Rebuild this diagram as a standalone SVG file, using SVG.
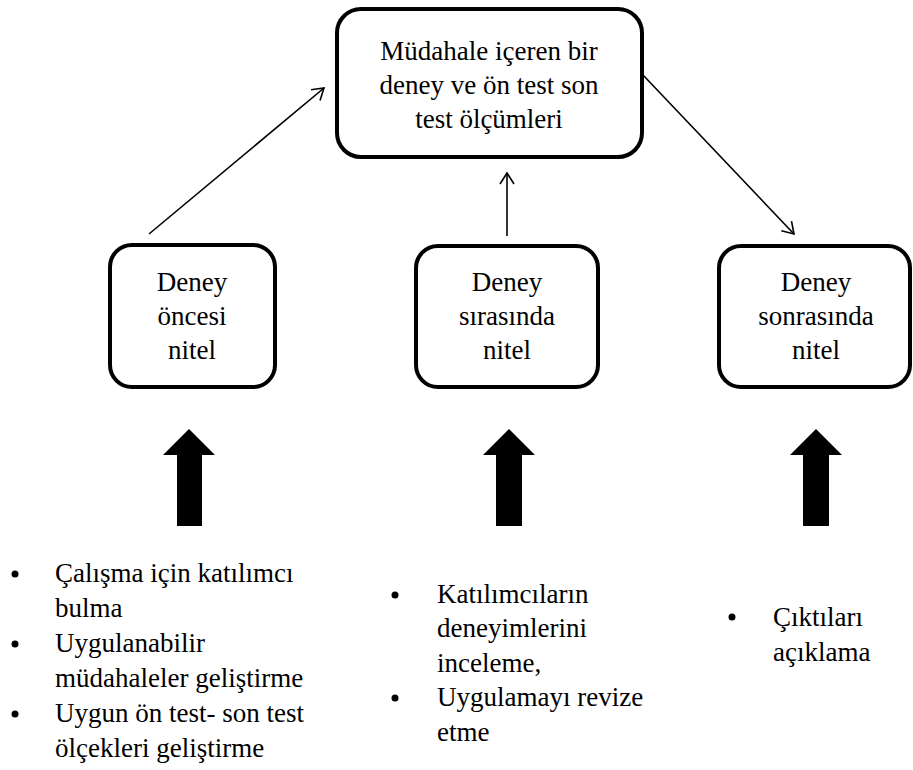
<svg xmlns="http://www.w3.org/2000/svg" width="913" height="770" viewBox="0 0 913 770">
<style>
.box{fill:#fff;stroke:#000;stroke-width:4}
.t{font-family:"Liberation Serif","Times New Roman",serif;font-size:27px;fill:#000}
.c{text-anchor:middle}
.ln{stroke:#000;stroke-width:1.6;fill:none}
.big{fill:#000}
</style>
<defs>
<marker id="oa" markerWidth="16" markerHeight="16" refX="13" refY="8" orient="auto" markerUnits="userSpaceOnUse">
<polyline points="2,1 13,8 2,15" fill="none" stroke="#000" stroke-width="1.6"/>
</marker>
</defs>
<g id="connectors">
<line class="ln" x1="149" y1="234" x2="324" y2="88" marker-end="url(#oa)"/>
<line class="ln" x1="507" y1="236" x2="507" y2="173" marker-end="url(#oa)"/>
<line class="ln" x1="643" y1="75" x2="794" y2="234" marker-end="url(#oa)"/>
<polygon class="big" points="189,429 215,455 202,455 202,526 177,526 177,455 163,455"/>
<polygon class="big" points="509,429 535,455 522,455 522,526 496,526 496,455 483,455"/>
<polygon class="big" points="816,429 842,455 829,455 829,526 803,526 803,455 790,455"/>
</g>
<g id="top">
<rect class="box" x="337" y="9" width="305" height="148" rx="24"/>
<text class="t c" x="489" y="60">Müdahale içeren bir</text>
<text class="t c" x="489" y="94">deney ve ön test son</text>
<text class="t c" x="489" y="128">test ölçümleri</text>
</g>
<g id="before">
<rect class="box" x="110" y="245" width="165" height="142" rx="22"/>
<text class="t c" x="192" y="291">Deney</text>
<text class="t c" x="192" y="325">öncesi</text>
<text class="t c" x="192" y="359">nitel</text>
</g>
<g id="during">
<rect class="box" x="416" y="246" width="182" height="141" rx="22"/>
<text class="t c" x="507" y="291">Deney</text>
<text class="t c" x="507" y="325">sırasında</text>
<text class="t c" x="507" y="359">nitel</text>
</g>
<g id="after">
<rect class="box" x="719" y="246" width="191" height="141" rx="22"/>
<text class="t c" x="816" y="291">Deney</text>
<text class="t c" x="816" y="325">sonrasında</text>
<text class="t c" x="816" y="359">nitel</text>
</g>
<g id="list-before">
<circle cx="15" cy="574" r="3.5"/>
<text class="t" x="55" y="582">Çalışma için katılımcı</text>
<text class="t" x="55" y="617">bulma</text>
<circle cx="15" cy="644" r="3.5"/>
<text class="t" x="55" y="652">Uygulanabilir</text>
<text class="t" x="55" y="687">müdahaleler geliştirme</text>
<circle cx="15" cy="714" r="3.5"/>
<text class="t" x="55" y="722">Uygun ön test- son test</text>
<text class="t" x="55" y="757">ölçekleri geliştirme</text>
</g>
<g id="list-during">
<circle cx="395" cy="595" r="3.5"/>
<text class="t" x="437" y="603">Katılımcıların</text>
<text class="t" x="437" y="637">deneyimlerini</text>
<text class="t" x="437" y="672">inceleme,</text>
<circle cx="395" cy="698" r="3.5"/>
<text class="t" x="437" y="706">Uygulamayı revize</text>
<text class="t" x="437" y="741">etme</text>
</g>
<g id="list-after">
<circle cx="732" cy="617" r="3.5"/>
<text class="t" x="773" y="626">Çıktıları</text>
<text class="t" x="773" y="661">açıklama</text>
</g>
</svg>
